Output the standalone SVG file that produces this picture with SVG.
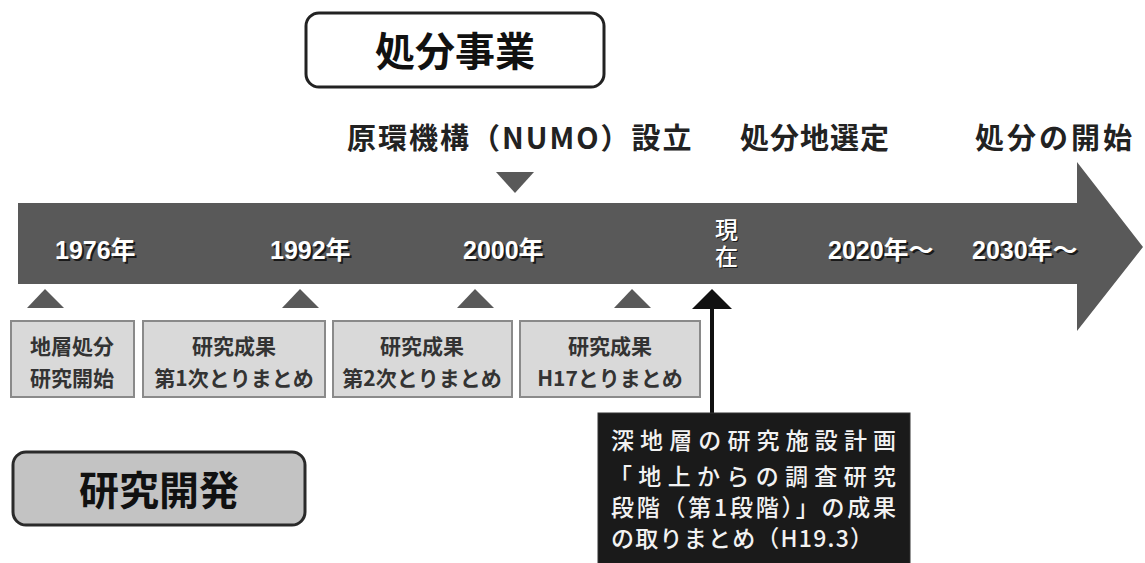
<svg xmlns="http://www.w3.org/2000/svg" width="1145" height="563" viewBox="0 0 1145 563">
<style>
.head{font-family:"Noto Sans CJK JP",sans-serif;font-weight:700;font-size:40px;fill:#111;text-anchor:middle;}
.ev{font-family:"Noto Sans CJK JP",sans-serif;font-weight:700;font-size:29px;fill:#222;}
.yr{font-family:"Liberation Sans","Noto Sans CJK JP",sans-serif;font-weight:700;font-size:25px;fill:#fff;}
.yrs{font-family:"Liberation Sans","Noto Sans CJK JP",sans-serif;font-weight:700;font-size:25px;fill:#1a1a1a;}
.bx{fill:#d9d9d9;stroke:#8a8a8a;stroke-width:2;}
.bt{font-family:"Noto Sans CJK JP",sans-serif;font-weight:700;font-size:21px;fill:#333;text-anchor:middle;}
.tri{fill:#595959;}
.wt{font-family:"Noto Sans CJK JP",sans-serif;font-weight:500;font-size:23px;fill:#f2f2f2;}
</style>

<g id="shogyo-header">
<rect x="306" y="13" width="298" height="74" rx="13" fill="#fff" stroke="#222" stroke-width="3"/>
<text class="head" x="455" y="66">処分事業</text>
</g>

<g id="kenkyu-header">
<rect x="13" y="452" width="292" height="73" rx="13" fill="#c3c3c3" stroke="#2a2a2a" stroke-width="3"/>
<text class="head" x="159" y="505">研究開発</text>
</g>

<g id="timeline">
<path d="M18,203 L1077,203 L1077,162 L1143,247 L1077,331 L1077,284 L18,284 Z" fill="#595959"/>
</g>

<g id="events-top">
<text class="ev" x="347" y="149" style="letter-spacing:2px">原環機構（NUMO）設立</text>
<text class="ev" x="740" y="149" style="letter-spacing:1px">処分地選定</text>
<text class="ev" x="975" y="149" style="letter-spacing:3px">処分の開始</text>
</g>

<g id="years">
<text class="yrs" x="57" y="261">1976年</text><text class="yr" x="55" y="259">1976年</text>
<text class="yrs" x="272" y="261">1992年</text><text class="yr" x="270" y="259">1992年</text>
<text class="yrs" x="465" y="261">2000年</text><text class="yr" x="463" y="259">2000年</text>
<text class="yrs" x="830" y="261">2020年～</text><text class="yr" x="828" y="259">2020年～</text>
<text class="yrs" x="974" y="261">2030年～</text><text class="yr" x="972" y="259">2030年～</text>
<text class="yrs" x="716" y="239" style="font-size:23px;font-weight:500">現</text><text class="yr" x="715" y="238" style="font-size:23px;font-weight:500">現</text>
<text class="yrs" x="716" y="266" style="font-size:23px;font-weight:500">在</text><text class="yr" x="715" y="265" style="font-size:23px;font-weight:500">在</text>
</g>

<g id="markers">
<polygon class="tri" points="496,172 534,172 515,193"/>
<polygon class="tri" points="27,308 64,308 45,289"/>
<polygon class="tri" points="282,308 319,308 300,289"/>
<polygon class="tri" points="457,308 494,308 475,289"/>
<polygon class="tri" points="614,308 651,308 632,289"/>
</g>

<g id="box-1976">
<rect class="bx" x="11" y="321" width="123" height="76"/>
<text class="bt" x="72" y="354">地層処分</text>
<text class="bt" x="72" y="386">研究開始</text>
</g>
<g id="box-1992">
<rect class="bx" x="143" y="321" width="182" height="76"/>
<text class="bt" x="234" y="354">研究成果</text>
<text class="bt" x="234" y="386">第1次とりまとめ</text>
</g>
<g id="box-2000">
<rect class="bx" x="333" y="321" width="179" height="76"/>
<text class="bt" x="422" y="354">研究成果</text>
<text class="bt" x="422" y="386">第2次とりまとめ</text>
</g>
<g id="box-h17">
<rect class="bx" x="520" y="321" width="180" height="76"/>
<text class="bt" x="610" y="354">研究成果</text>
<text class="bt" x="610" y="386">H17とりまとめ</text>
</g>

<g id="connectors">
<line x1="712" y1="300" x2="712" y2="414" stroke="#111" stroke-width="4"/>
<polygon points="692,309 732,309 712,289" fill="#111"/>
</g>

<g id="box-h19">
<rect x="598" y="413" width="312" height="152" fill="#1a1a1a" stroke="#333" stroke-width="1"/>
<text class="wt" x="611" y="449" textLength="285" lengthAdjust="spacing">深地層の研究施設計画</text>
<text class="wt"><tspan x="609" y="485" textLength="287" lengthAdjust="spacing">「地上からの調査研究</tspan><tspan x="611" y="516" textLength="285" lengthAdjust="spacing">段階（第1段階）」の成果</tspan><tspan x="611" y="547" textLength="262" lengthAdjust="spacing">の取りまとめ（H19.3）</tspan></text>
</g>
</svg>
